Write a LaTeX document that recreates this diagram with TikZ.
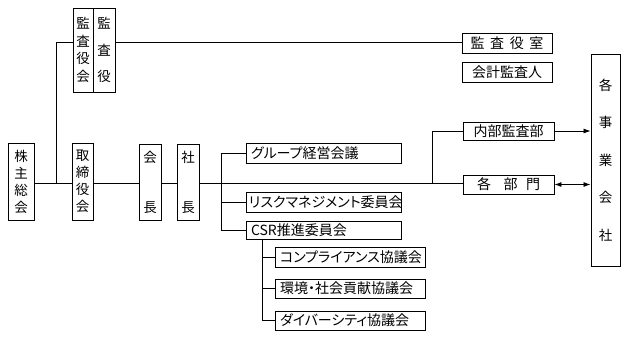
\documentclass[tikz,border=0pt]{standalone}
\usepackage{fontspec}
\setmainfont{Noto Sans CJK JP}
\newfontfamily\pfont[RawFeature=+palt]{Noto Sans CJK JP}
\usetikzlibrary{arrows.meta}
\begin{document}
\begin{tikzpicture}[x=1pt,y=-1pt,
  box/.style={draw, line width=0.9pt, inner sep=0pt},
  vbox/.style={box, align=center},
  hbox/.style={box, inner xsep=5pt, inner ysep=0pt, align=left, minimum height=20pt, font=\fontsize{14}{16}\selectfont},
  cbox/.style={box, align=center, minimum height=20pt, font=\fontsize{14}{16}\selectfont},
  conn/.style={line width=0.8pt},
  tipr/.style={-{Latex[length=7pt,width=5pt]}},
  tipb/.style={{Latex[length=7pt,width=5pt]}-{Latex[length=7pt,width=5pt]}}
]
\path[use as bounding box] (0,0) rectangle (628,338);

% left column
\node[vbox, minimum width=26pt, minimum height=77pt, font=\fontsize{13.5}{17}\selectfont] (kabu) at (21,181.5) {株\\主\\総\\会};
\node[vbox, minimum width=20pt, minimum height=84pt, font=\fontsize{13.5}{17.7}\selectfont] (kansayakukai) at (83,50) {監\\査\\役\\会};
\node[vbox, minimum width=22pt, minimum height=84pt, font=\fontsize{13.5}{26.5}\selectfont] (kansayaku) at (104,50) {監\\査\\役};
\node[vbox, minimum width=21pt, minimum height=77pt, font=\fontsize{13.5}{17}\selectfont] (torishimari) at (82.5,181.5) {取\\締\\役\\会};
\node[vbox, minimum width=22pt, minimum height=76pt, font=\fontsize{13.5}{50}\selectfont] (kaicho) at (150,182) {会\\長};
\node[vbox, minimum width=22pt, minimum height=76pt, font=\fontsize{13.5}{50}\selectfont] (shacho) at (188,182) {社\\長};

% committees
\node[hbox, text width=145pt] (group) at (323.5,153) {\pfont グループ経営会議};
\node[hbox, inner xsep=3pt, text width=149pt] (risk) at (323.5,202) {\pfont リスクマネジメント委員会};
\node[hbox, text width=145pt, minimum height=18pt] (csr) at (323.5,230) {CSR推進委員会};
\node[hbox, text width=140pt] (comp) at (350,257) {\pfont コンプライアンス協議会};
\node[hbox, text width=140pt, minimum height=19pt] (kankyo) at (350,288.5) {\pfont 環境・社会貢献協議会};
\node[hbox, text width=140pt, minimum height=19pt] (diver) at (350,320.5) {\pfont ダイバーシティ協議会};

% right
\node[cbox, minimum width=90pt] (kansashitsu) at (507,43) {監\hspace{0.4em}査\hspace{0.4em}役\hspace{0.4em}室};
\node[cbox, minimum width=90pt] (kaikei) at (507,72) {会計監査人};
\node[cbox, minimum width=91pt, minimum height=18pt] (naibu) at (508.5,131) {内部監査部};
\node[cbox, minimum width=91pt, minimum height=19pt] (kakubumon) at (508.5,184.5) {各\hspace{0.9em}部\hspace{0.6em}門};
\node[vbox, minimum width=29pt, minimum height=212pt, font=\fontsize{13.5}{37.5}\selectfont] (jigyo) at (605.5,160) {各\\事\\業\\会\\社};

% helper coordinates
\coordinate (mainY) at (0,183);
\coordinate (audY) at (0,42);
\coordinate (j1) at (56,183);
\coordinate (b1) at (221,183);
\coordinate (b2) at (432,183);
\coordinate (b3) at (262,239);

% connectors
\draw[conn] (kabu.east |- mainY) -- (torishimari.west |- mainY);
\draw[conn] (j1) -- (j1 |- audY) -- (kansayakukai.west |- audY);
\draw[conn] (kansayaku.east |- audY) -- (kansashitsu.west |- audY);
\draw[conn] (torishimari.east |- mainY) -- (kaicho.west |- mainY);
\draw[conn] (kaicho.east |- mainY) -- (shacho.west |- mainY);
\draw[conn] (shacho.east |- mainY) -- (kakubumon.west |- mainY);
\draw[conn] (group.west) -- (b1 |- group.west) -- (b1 |- csr.west) -- (csr.west);
\draw[conn] (b1 |- risk.west) -- (risk.west);
\draw[conn] (b3) -- (b3 |- diver.west) -- (diver.west);
\draw[conn] (b3 |- comp.west) -- (comp.west);
\draw[conn] (b3 |- kankyo.west) -- (kankyo.west);
\draw[conn] (b2) -- (b2 |- naibu.west) -- (naibu.west);
\draw[conn, tipr] (naibu.east) -- (naibu.east -| jigyo.west);
\draw[conn, tipb] (kakubumon.east) -- (kakubumon.east -| jigyo.west);
\end{tikzpicture}
\end{document}
